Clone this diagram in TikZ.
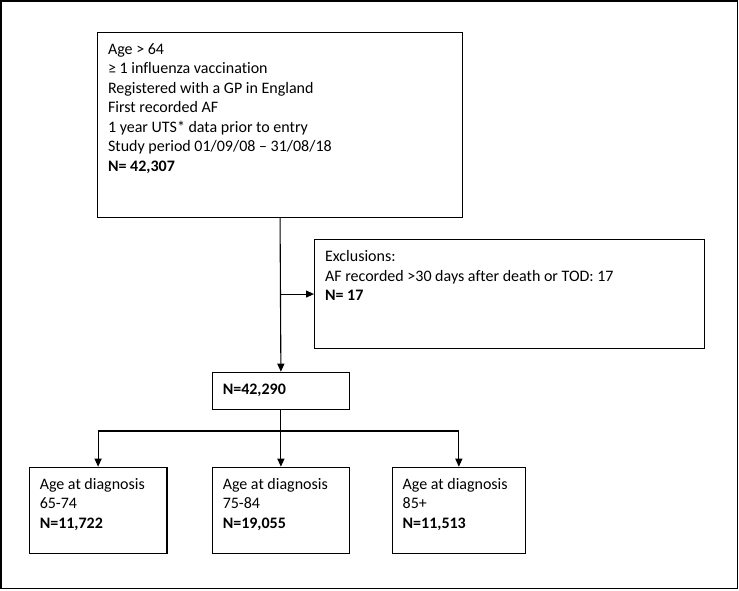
\documentclass[tikz,border=0pt]{standalone}
\usepackage{fontspec}
\setmainfont[Ligatures={NoCommon}]{Carlito}
\usetikzlibrary{arrows.meta}
\newcommand{\bxtext}[3]{\begin{minipage}[t][#2][t]{#1}\strut #3\end{minipage}}
\tikzset{
  x=1pt, y=-1pt,
  box/.style={draw=black, line width=1.1pt, inner xsep=10.5pt, inner ysep=8.5pt, anchor=north west, font=\fontsize{16}{19.5}\selectfont},
  arr/.style={draw=black, line width=1.1pt, -{Triangle[length=8pt,width=7pt]}},
  conn/.style={draw=black, line width=1.1pt}
}
\begin{document}
\begin{tikzpicture}
\useasboundingbox (0,0) rectangle (739,590);
\draw[line width=1.5pt] (1,1) rectangle (737.5,588.5);
\node[box] (top) at (97,31.5) {\bxtext{344pt}{168pt}{Age > 64\\
≥ 1 influenza vaccination\\
Registered with a GP in England\\
First recorded AF\\
1 year UTS* data prior to entry\\
Study period 01/09/08 – 31/08/18\\
\textbf{N= 42,307}}};
\node[box] (excl) at (314,239) {\bxtext{369pt}{92pt}{Exclusions:\\
AF recorded >30 days after death or TOD: 17\\
\textbf{N= 17}}};
\node[box] (mid) at (211.7,371.7) {\bxtext{116.3pt}{20.3pt}{\textbf{N=42,290}}};
\node[box] (b1) at (28.7,466.7) {\bxtext{116.7pt}{69pt}{Age at diagnosis\\65-74\\\textbf{N=11,722}}};
\node[box] (b2) at (211.7,466.7) {\bxtext{116.3pt}{69pt}{Age at diagnosis\\75-84\\\textbf{N=19,055}}};
\node[box] (b3) at (391.6,466.7) {\bxtext{112.4pt}{69pt}{Age at diagnosis\\85+\\\textbf{N=11,513}}};
\coordinate (tap) at (top.south |- excl.west);
\coordinate (split) at (280,431);
\draw[arr] (top.south) -- (mid.north);
\draw[arr] (tap) -- (excl.west);
\draw[arr] (mid.south) -- (b2.north);
\draw[arr] (split) -| (b1.north);
\draw[arr] (split) -| (b3.north);
\end{tikzpicture}
\end{document}
